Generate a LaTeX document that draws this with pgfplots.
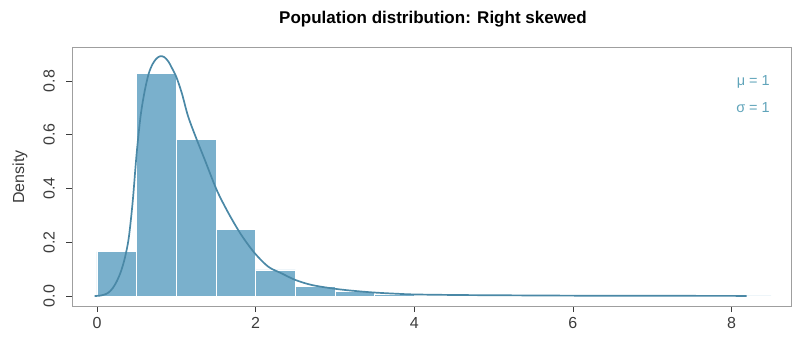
\documentclass[border=0pt]{standalone}
\usepackage{pgfplots}
\pgfplotsset{compat=1.18}
\usepackage{fontspec}
\setmainfont{Liberation Sans}
\definecolor{barfill}{RGB}{122,176,204}
\definecolor{curvecol}{RGB}{74,136,166}
\definecolor{txtcol}{RGB}{96,164,186}
\definecolor{tickcol}{RGB}{60,60,60}
\begin{document}
\begin{tikzpicture}[x=1bp,y=1bp]
\useasboundingbox (0,0) rectangle (795,338);
\begin{axis}[
  at={(72bp,32bp)}, anchor=south west,
  scale only axis, width=719bp, height=259bp,
  xmin=-0.315, xmax=8.75, ymin=-0.037, ymax=0.926,
  axis line style={draw=gray!75, line width=0.8pt},
  xtick={0,2,4,6,8}, ytick={0,0.2,0.4,0.6,0.8},
  xtick pos=left, ytick pos=left,
  tick align=outside, major tick length=6bp,
  tick style={draw=tickcol, line width=0.6pt},
  /pgf/number format/assume math mode=true,
  ticklabel style={font=\fontsize{16bp}{16bp}\selectfont, text=tickcol, inner sep=0pt},
  yticklabel style={rotate=90, anchor=south, /pgf/number format/.cd, fixed, fixed zerofill, precision=1},
  yticklabel shift=11bp,
  xticklabel style={anchor=north},
  xticklabel shift=5bp,
  clip=false,
]
\addplot[ybar interval, fill=barfill, draw=white, line width=0.8pt] coordinates {
(0,0.165) (0.5,0.828) (1.0,0.582) (1.5,0.248) (2.0,0.097) (2.5,0.035) (3.0,0.016) (3.5,0.007)
(4.0,0.004) (4.5,0.003) (5.0,0.002) (5.5,0.0015) (6.0,0.001) (6.5,0.001) (7.0,0.0008) (7.5,0.0006) (8.0,0.0005) (8.5,0)
};
\addplot[curvecol, line width=1.7pt, smooth, tension=0.5] coordinates {
(-0.03,0) (0.05,0.002) (0.10,0.006) (0.15,0.014) (0.20,0.03) (0.25,0.055) (0.30,0.09) (0.35,0.14) (0.40,0.215)
(0.45,0.35) (0.50,0.53) (0.55,0.67) (0.60,0.76) (0.65,0.825) (0.70,0.862) (0.75,0.883) (0.80,0.892)
(0.85,0.888) (0.90,0.872) (0.95,0.845) (1.0,0.815)
(1.07,0.754) (1.15,0.667) (1.26,0.58) (1.36,0.506) (1.51,0.394) (1.66,0.307) (1.82,0.227) (1.99,0.159)
(2.16,0.109) (2.33,0.084) (2.50,0.06) (2.71,0.041) (3.0,0.027) (3.25,0.019) (3.5,0.013) (3.75,0.009)
(4.0,0.006) (4.5,0.004) (5.0,0.003) (6.0,0.0015) (7.0,0.001) (8.19,0.0005)
};
\end{axis}
\node[font=\bfseries\fontsize{17bp}{17bp}\selectfont] at (433,319) {Population distribution: Right skewed};
\node[rotate=90, font=\fontsize{16bp}{16bp}\selectfont, text=tickcol] at (20,161) {Density};
\node[anchor=east, inner sep=0pt, font=\fontsize{14.5bp}{14.5bp}\selectfont, text=txtcol] at (770,256.3) {μ = 1};
\node[anchor=east, inner sep=0pt, font=\fontsize{14.5bp}{14.5bp}\selectfont, text=txtcol] at (770,230.3) {σ = 1};
\end{tikzpicture}
\end{document}
